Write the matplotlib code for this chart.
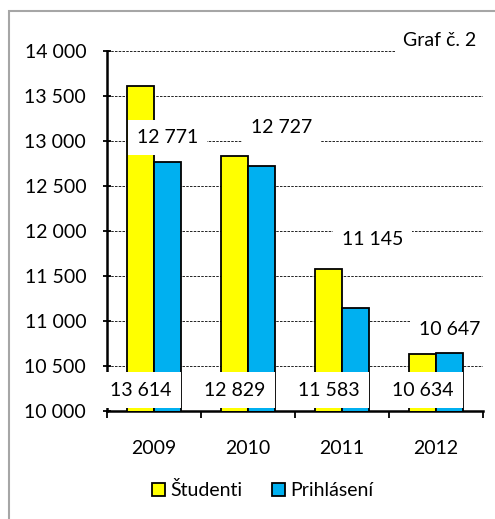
import numpy as np
import matplotlib
matplotlib.use("Agg")
import matplotlib.pyplot as plt
from matplotlib.patches import Rectangle, Patch

plt.rcParams['font.family'] = ['Lato', 'DejaVu Sans']

years = ['2009', '2010', '2011', '2012']
studenti = [13614, 12829, 11583, 10634]
prihlaseni = [12771, 12727, 11145, 10647]
labels_s = ['13 614', '12 829', '11 583', '10 634']
labels_p = ['12 771', '12 727', '11 145', '10 647']

# manual label offsets for Prihlásení labels (pixels from bar top)
p_offsets = [(0, 24), (20, 38), (17, 68), (0, 23)]

fs = 14

fig = plt.figure(figsize=(4.95, 5.19), dpi=100)
ax = fig.add_axes([107 / 495, 1 - 411 / 519, 376 / 495, 360 / 519])

x = np.arange(len(years))
w = 0.287
ax.bar(x - w / 2, studenti, w, color='#ffff00', edgecolor='black', linewidth=1.3, zorder=3, label='Študenti')
ax.bar(x + w / 2, prihlaseni, w, color='#00b0f0', edgecolor='black', linewidth=1.3, zorder=3, label='Prihlásení')

ax.set_xlim(-0.5, len(years) - 0.5)
ax.set_ylim(10000, 14000)
ax.set_yticks(np.arange(10000, 14001, 500))
ax.set_yticklabels([f'{int(v):,}'.replace(',', ' ') for v in np.arange(10000, 14001, 500)])
ax.yaxis.grid(True, color='black', linestyle=(0, (3, 1.5)), linewidth=0.6, zorder=0)
ax.set_axisbelow(True)

ax.set_xticks(x)
ax.set_xticklabels(years)
ax.set_xticks(np.arange(-0.5, len(years)), minor=True)
ax.tick_params(axis='x', which='major', length=0, pad=21, labelsize=fs)
ax.tick_params(axis='x', which='minor', length=5, width=1.3, direction='out')
ax.tick_params(axis='y', length=6, width=1.3, direction='inout', pad=12, labelsize=fs)

for s in ['top', 'right']:
    ax.spines[s].set_visible(False)
ax.spines['left'].set_linewidth(1.8)
ax.spines['bottom'].set_linewidth(1.8)

for xi, lab in zip(x, labels_s):
    ax.text(xi - w / 2, 10233, lab, ha='center', va='center', fontsize=fs, zorder=5,
            bbox=dict(boxstyle='square,pad=0.5', facecolor='white', edgecolor='none'))

for xi, val, lab, (dx, dy) in zip(x, prihlaseni, labels_p, p_offsets):
    ax.annotate(lab, (xi + w / 2, val), xytext=(dx, dy), textcoords='offset pixels',
                ha='center', va='center', fontsize=fs, zorder=5, annotation_clip=False,
                bbox=dict(boxstyle='square,pad=0.45', facecolor='white', edgecolor='none'))

fig.text(440 / 495, 1 - 41 / 519, 'Graf č. 2', ha='center', va='center', fontsize=fs,
         bbox=dict(boxstyle='square,pad=0.45', facecolor='white', edgecolor='none'))

handles = [Patch(facecolor='#ffff00', edgecolor='black', linewidth=1.3),
           Patch(facecolor='#00b0f0', edgecolor='black', linewidth=1.3)]
fig.legend(handles, ['Študenti', 'Prihlásení'], loc='center', bbox_to_anchor=(263 / 495, 1 - 490 / 519),
           ncol=2, frameon=False, fontsize=fs, handlelength=0.65, handleheight=0.65,
           handletextpad=0.3, columnspacing=1.5)

fig.patches.append(Rectangle((9 / 495, -0.1), 1.2, 1 - 11 / 519 + 0.1, transform=fig.transFigure,
                             fill=False, edgecolor='#a6a6a6', linewidth=1.5))

fig.savefig('out.png', dpi=100)
